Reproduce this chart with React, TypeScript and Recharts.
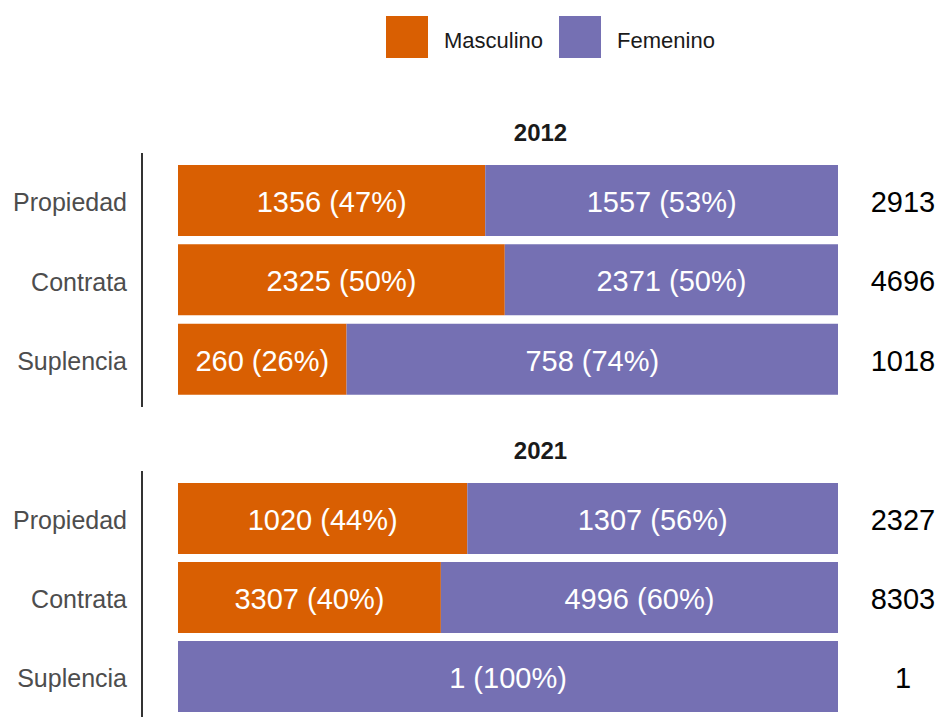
import React from 'react';
import { BarChart, Bar, XAxis, YAxis, LabelList } from 'recharts';

const categories = ['Propiedad', 'Contrata', 'Suplencia'];
const years = ['2012', '2021'];
const masculino2012 = [1356, 2325, 260];
const femenino2012 = [1557, 2371, 758];
const masculino2021 = [1020, 3307, 0];
const femenino2021 = [1307, 4996, 1];
const seriesNames = ['Masculino', 'Femenino'];
const seriesColors = ['#D95F02', '#7570B3'];

const FONT = '"Liberation Sans", Arial, Helvetica, sans-serif';

function buildRows(m: number[], f: number[]) {
  return categories.map((cat, i) => {
    const tot = m[i] + f[i];
    const pm = Math.round((m[i] / tot) * 100);
    const pf = Math.round((f[i] / tot) * 100);
    return {
      cat,
      m: m[i],
      f: f[i],
      mLabel: m[i] > 0 ? `${m[i]} (${pm}%)` : '',
      fLabel: f[i] > 0 ? `${f[i]} (${pf}%)` : '',
      totLabel: String(tot),
    };
  });
}

const rows2012 = buildRows(masculino2012, femenino2012);
const rows2021 = buildRows(masculino2021, femenino2021);

function box(props: any) {
  const vb = props.viewBox || {};
  return {
    x: Number(props.x ?? vb.x ?? 0),
    y: Number(props.y ?? vb.y ?? 0),
    w: Number(props.width ?? vb.width ?? 0),
    h: Number(props.height ?? vb.height ?? 0),
  };
}

const BarText = (props: any) => {
  if (!props.value) return null;
  const { x, y, w, h } = box(props);
  return (
    <text
      x={x + w / 2}
      y={y + h / 2}
      dy="0.4em"
      textAnchor="middle"
      fill="#ffffff"
      fontSize={29}
      fontFamily={FONT}
    >
      {props.value}
    </text>
  );
};

const TotalText = (props: any) => {
  const { x, y, w, h } = box(props);
  return (
    <text
      x={x + w + 65}
      y={y + h / 2}
      dy="0.4em"
      textAnchor="middle"
      fill="#000000"
      fontSize={29}
      fontFamily={FONT}
    >
      {props.value}
    </text>
  );
};

const CatTick = (props: any) => {
  const { x, y, payload } = props;
  return (
    <text
      x={Number(x)}
      y={Number(y)}
      dy="0.42em"
      textAnchor="end"
      fill="#4D4D4D"
      fontSize={25}
      fontFamily={FONT}
    >
      {payload.value}
    </text>
  );
};

function Facet({ rows, top, bottom, height }: { rows: any[]; top: number; bottom: number; height: number }) {
  return (
    <div style={{ position: 'absolute', left: 0, top: 0 }}>
      <BarChart
        width={939}
        height={height}
        data={rows}
        layout="vertical"
        stackOffset="expand"
        barCategoryGap="5%"
        margin={{ top, bottom, left: 0, right: 0 }}
      >
        <XAxis type="number" hide domain={[0, 1]} padding={{ left: 36, right: 101 }} />
        <YAxis
          type="category"
          dataKey="cat"
          width={142}
          padding={{ top: 8, bottom: 8 }}
          tickLine={false}
          tickSize={0}
          tickMargin={15}
          axisLine={{ stroke: '#333333', strokeWidth: 2 }}
          tick={CatTick}
          interval={0}
        />
        <Bar dataKey="m" stackId="a" fill={seriesColors[0]} isAnimationActive={false} name={seriesNames[0]}>
          <LabelList dataKey="mLabel" content={BarText} />
        </Bar>
        <Bar dataKey="f" stackId="a" fill={seriesColors[1]} isAnimationActive={false} name={seriesNames[1]}>
          <LabelList dataKey="fLabel" content={BarText} />
          <LabelList dataKey="totLabel" content={TotalText} />
        </Bar>
      </BarChart>
    </div>
  );
}

function Title({ text, cy }: { text: string; cy: number }) {
  return (
    <div
      style={{
        position: 'absolute',
        left: 142,
        width: 797,
        top: cy - 12,
        height: 24,
        lineHeight: '24px',
        textAlign: 'center',
        fontWeight: 'bold',
        fontSize: 24,
        color: '#1A1A1A',
        fontFamily: FONT,
      }}
    >
      {text}
    </div>
  );
}

function Legend() {
  return (
    <div
      style={{
        position: 'absolute',
        left: 386,
        top: 16,
        height: 42,
        display: 'flex',
        alignItems: 'center',
        fontFamily: FONT,
        fontSize: 22,
        color: '#1A1A1A',
      }}
    >
      {seriesNames.map((n, i) => (
        <div key={n} style={{ display: 'flex', alignItems: 'center', marginRight: 16 }}>
          <div style={{ width: 42, height: 42, background: seriesColors[i], marginRight: 16 }} />
          <span style={{ position: 'relative', top: 4 }}>{n}</span>
        </div>
      ))}
    </div>
  );
}

export default function App() {
  return (
    <div
      style={{
        position: 'absolute',
        left: 0,
        top: 0,
        width: 939,
        height: 717,
        overflow: 'hidden',
        background: '#ffffff',
      }}
    >
      <Legend />
      <Title text={years[0]} cy={133} />
      <Title text={years[1]} cy={451} />
      <Facet rows={rows2012} top={153} bottom={310} height={717} />
      <Facet rows={rows2021} top={471} bottom={36} height={760} />
    </div>
  );
}
